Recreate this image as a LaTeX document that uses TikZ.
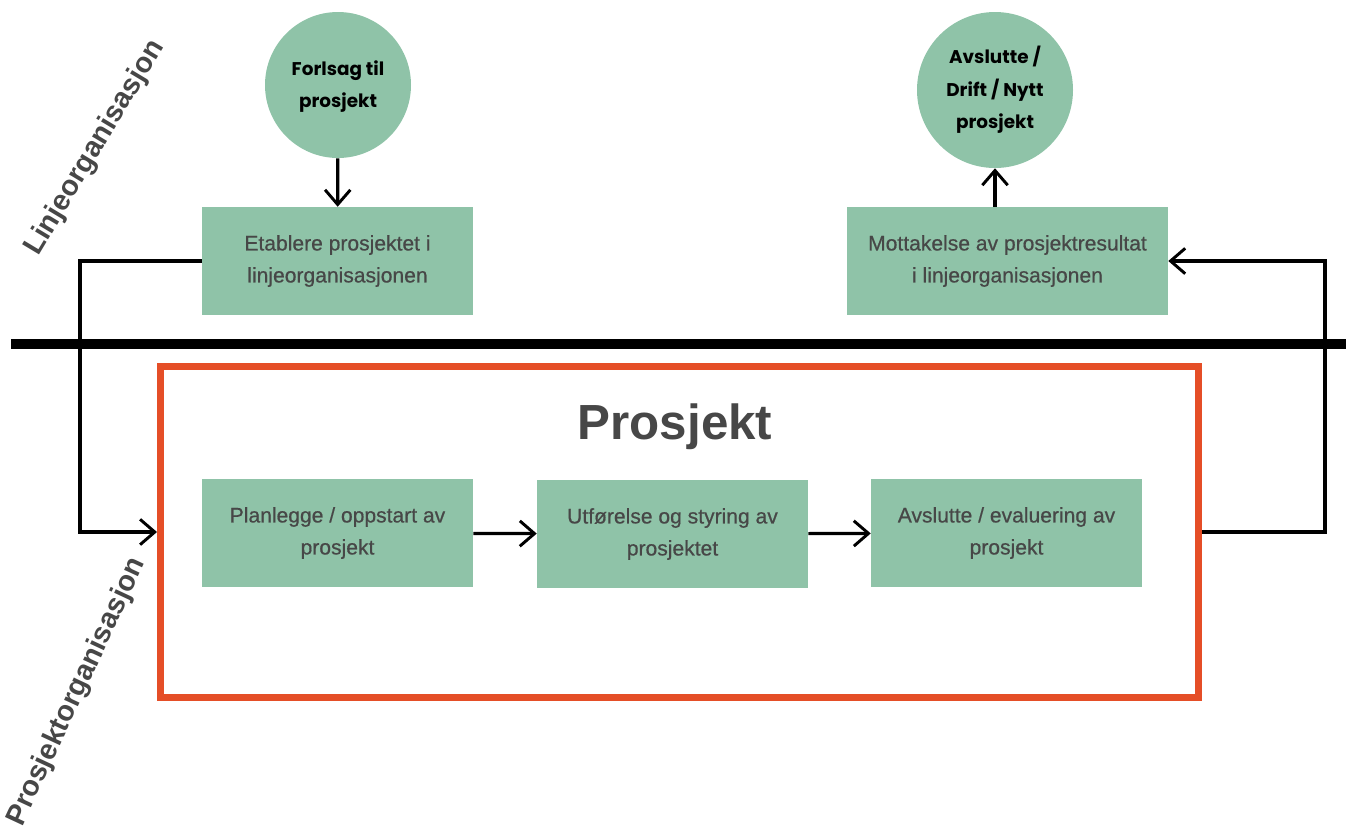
\documentclass[tikz,border=0pt]{standalone}
\usepackage{fontspec}
\setmainfont{Liberation Sans}
\newfontfamily\boxfont[FakeBold=0.6]{Liberation Sans}
\newfontfamily\circfont{Poppins}
\usetikzlibrary{arrows.meta}
\definecolor{boxgreen}{HTML}{8FC3A8}
\definecolor{framered}{HTML}{E54E27}
\definecolor{textgray}{HTML}{474747}
\tikzset{
  stepbox/.style={rectangle, fill=boxgreen, text=textgray, align=center,
    minimum width=203.25pt, minimum height=81pt, font=\boxfont\fontsize{15.8}{24}\selectfont, inner sep=2pt},
  endpoint/.style={circle, fill=boxgreen, text=black, align=center,
    font=\circfont\bfseries\fontsize{13.8}{24.5}\selectfont, inner sep=0pt},
  conn/.style={line width=2.4pt, line join=miter, -{Straight Barb[length=11pt,width=19pt,line width=2.2pt]}},
  sidelabel/.style={text=textgray, font=\bfseries\fontsize{21.5}{24}\selectfont, inner sep=0pt},
}
\begin{document}
\begin{tikzpicture}[x=0.75pt, y=-0.75pt]
  \useasboundingbox (0,0) rectangle (1346,829);

  % divider between line organisation and project organisation
  \draw[line width=7pt] (11,344) -- (1346,344);

  % line organisation
  \node[endpoint, minimum size=109.5pt] (c1) at (338,85) {\raisebox{-4pt}{\begin{tabular}{@{}c@{}}Forlsag til\\prosjekt\end{tabular}}};
  \node[endpoint, minimum size=117pt] (c2) at (995,90) {Avslutte /\\Drift / Nytt\\prosjekt};
  \node[stepbox] (etab) at (337.5,261) {Etablere prosjektet i\\linjeorganisasjonen};
  \node[stepbox, minimum width=240.75pt] (mott) at (1007.5,261) {Mottakelse av prosjektresultat\\i linjeorganisasjonen};

  % project frame
  \node[draw=framered, line width=5.25pt, minimum width=778.5pt, minimum height=248.6pt] (frame) at (679.5,532) {};
  \node[text=textgray, font=\bfseries\fontsize{37}{40}\selectfont] (title) at (675,427) {Prosjekt};
  \node[stepbox] (plan) at (337.5,533) {Planlegge / oppstart av\\prosjekt};
  \node[stepbox] (utf) at (672.5,534) {Utførelse og styring av\\prosjektet};
  \node[stepbox] (avsl) at (1006.5,533) {Avslutte / evaluering av\\prosjekt};

  % side labels
  \node[sidelabel, rotate=59] (lbl1) at (95,148) {Linjeorganisasjon};
  \node[sidelabel, rotate=65] (lbl2) at (77,692) {Prosjektorganisasjon};

  % connectors
  \coordinate (lx) at (80,532);
  \coordinate (rx) at (1325,261);
  \draw[conn] (c1) -- (etab);
  \draw[conn] (c2 |- mott.north) -- (c2.south);
  \draw[conn] (plan) -- (utf);
  \draw[conn] (utf) -- (avsl);
  \draw[conn] (etab.west) -| (lx) -- (frame.west);
  \draw[conn] (frame.east) -| (rx) -- (mott.east);
\end{tikzpicture}
\end{document}
